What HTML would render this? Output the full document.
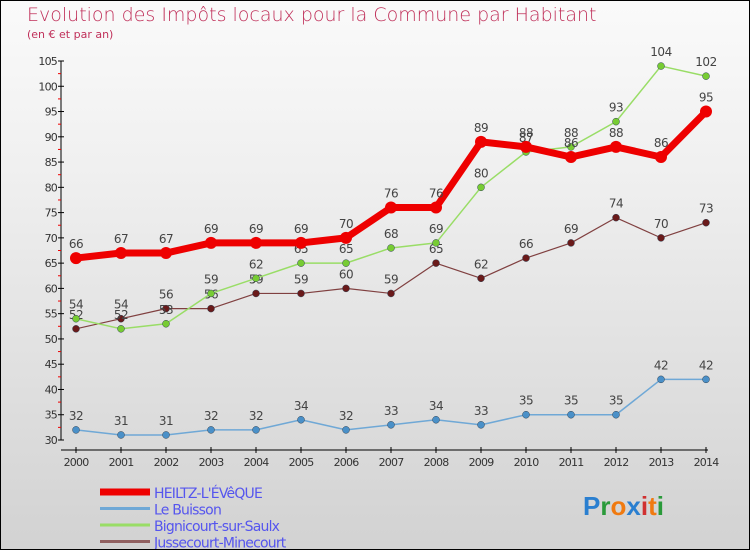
<!DOCTYPE html>
<html><head><meta charset="utf-8"><style>
body{margin:0}
#wrap{width:748px;height:548px;border:1px solid #000;position:relative;overflow:hidden;background:linear-gradient(#fafafa,#f0f0f0 30%,#d2d2d2);font-family:"DejaVu Sans","Liberation Sans",sans-serif}
.t{position:absolute;color:#c0305a;white-space:nowrap}
</style></head><body>
<div id="wrap">
<div class="t" style="left:26px;top:3px;font-size:19px;font-weight:200">Evolution des Impôts locaux pour la Commune par Habitant</div>
<div class="t" style="left:26px;top:27px;font-size:11px">(en € et par an)</div>
<svg id="c" width="750" height="550" style="position:absolute;left:-1px;top:-1px"></svg>
</div>
<script>
const years=[2000,2001,2002,2003,2004,2005,2006,2007,2008,2009,2010,2011,2012,2013,2014];
const heiltz=[66,67,67,69,69,69,70,76,76,89,88,86,88,86,95];
const buisson=[32,31,31,32,32,34,32,33,34,33,35,35,35,42,42];
const bignicourt=[54,52,53,59,62,65,65,68,69,80,87,88,93,104,102];
const jussecourt=[52,54,56,56,59,59,60,59,65,62,66,69,74,70,73];
const yTicks=[30,35,40,45,50,55,60,65,70,75,80,85,90,95,100,105];
const NS="http://www.w3.org/2000/svg",svg=document.getElementById('c');
const X=i=>76+i*45, Y=v=>440-(v-30)*(379/75);
function mk(t,a,p){const e=document.createElementNS(NS,t);for(const k in a)e.setAttribute(k,a[k]);(p||svg).appendChild(e);return e;}
let e;
e=mk('line',{x1:61,y1:Y(105),x2:61,y2:440,stroke:'#000'});

e=mk('line',{x1:61,y1:450,x2:708,y2:450,stroke:'#000'});

yTicks.forEach(v=>{
 mk('line',{x1:58,y1:Y(v),x2:64,y2:Y(v),stroke:'#000'});
 if(v<105)mk('line',{x1:58,y1:Y(v+2.5),x2:61,y2:Y(v+2.5),stroke:'#e00'});
 e=mk('text',{x:57,y:Y(v)+4,'text-anchor':'end','font-size':11,fill:'#333','letter-spacing':'-0.8'});e.textContent=v;
 
});
years.forEach((y,i)=>{
 mk('line',{x1:X(i),y1:447,x2:X(i),y2:453,stroke:'#000'});
 e=mk('text',{x:X(i),y:466,'text-anchor':'middle','font-size':11,fill:'#333','letter-spacing':'-0.8'});e.textContent=y;
 
});
function series(d,col,w,r,dot,name){
 const g=mk('g',{});
 mk('polyline',{points:d.map((v,i)=>X(i)+','+Y(v)).join(' '),fill:'none',stroke:col,'stroke-width':w,'stroke-linejoin':'round'},g);
 d.forEach((v,i)=>{
  e=mk('circle',{cx:X(i),cy:Y(v),r:r,fill:dot,stroke:w>3?'none':'#345','stroke-width':0.5},g);
  
  e=mk('text',{x:X(i),y:Y(v)-10,'text-anchor':'middle','font-size':12,fill:'#444','letter-spacing':'-0.5'},g);e.textContent=v;
 });
}
series(buisson,'#6fa8d6',1.5,3.5,'#4a90c8','series-le-buisson');
series(jussecourt,'#804040',1.2,3.5,'#6a1a1a','series-jussecourt');
series(bignicourt,'#99dd66',1.5,3.5,'#77cc33','series-bignicourt');
series(heiltz,'#ee0000',7,6,'#ee0000','series-heiltz');
const leg=[['HEILTZ-L\'ÉVêQUE','#ee0000',7],['Le Buisson','#6fa8d6',3],['Bignicourt-sur-Saulx','#99dd66',3],['Jussecourt-Minecourt','#906060',3]];
leg.forEach((l,i)=>{
 const g=mk('g',{});
 const y=492+i*16.5;
 mk('line',{x1:100,y1:y,x2:150,y2:y,stroke:l[1],'stroke-width':l[2]},g);
 e=mk('text',{x:154,y:y+6,'font-size':14,fill:'#5555ee','letter-spacing':'-0.8'},g);e.textContent=l[0];
});
const lg=mk('text',{x:583,y:515,'font-size':26,'font-family':'Liberation Sans, sans-serif','font-weight':'bold'});

[['P','#2a7fd0'],['r','#2a9a3a'],['o','#f07a10'],['x','#2a7fd0'],['i','#d03030'],['t','#f07a10'],['i','#2a9a3a']].forEach(c=>{const s=mk('tspan',{fill:c[1]},lg);s.textContent=c[0];});
</script>
</body></html>
